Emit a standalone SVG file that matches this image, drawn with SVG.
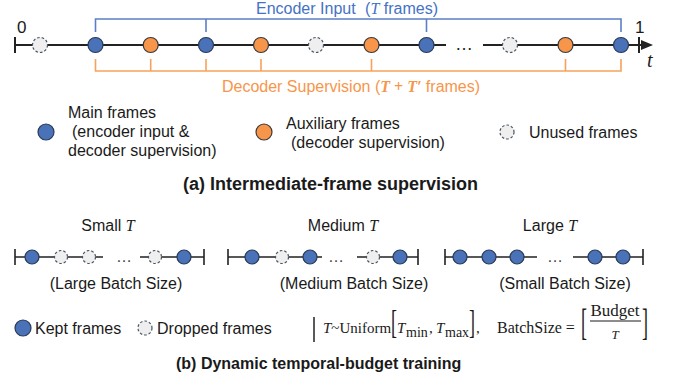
<svg xmlns="http://www.w3.org/2000/svg" width="683" height="383" viewBox="0 0 683 383">
<style>
.blue{fill:#4A72B8;stroke:#2B3A55;stroke-width:1.2}
.orange{fill:#F7964A;stroke:#3A3A3A;stroke-width:1.2}
.unused{fill:#EFEFEF;stroke:#4A5564;stroke-width:1.2;stroke-dasharray:2.6 2}
.axis{stroke:#222;stroke-width:2;fill:none}
.thin{stroke:#222;stroke-width:1.6;fill:none}
.bb{stroke:#5B7FC7;stroke-width:1.6;fill:none}
.ob{stroke:#F7A25A;stroke-width:1.6;fill:none}
.t{font-family:"Liberation Sans",Arial,sans-serif;font-size:16px;fill:#1a1a1a}
.b{font-weight:bold}
.m{font-family:"Liberation Serif","Times New Roman",serif;font-style:italic}
.s{font-family:"Liberation Serif","Times New Roman",serif}
.dots{font-family:"Liberation Sans",Arial,sans-serif;font-size:16px;fill:#444}
</style>
<rect width="683" height="383" fill="#fff"/>

<!-- (a) connectors -->
<g id="connectors-a">
  <path class="axis" d="M15 45H446M483 45H645"/>
  <path class="axis" d="M15 37V53M639 37V53"/>
  <polygon points="641,40 653,45 641,50" fill="#222"/>
  <path class="bb" d="M95.5 32V19H621V32M206 19V32M426.5 19V32"/>
  <path class="ob" d="M95.5 59V71H621V59M150.7 59V71M206 59V71M261 59V71M371.5 59V71M565.5 59V71"/>
</g>
<g id="labels-a">
  <text class="t" x="17" y="33" style="font-size:17px">0</text>
  <text class="t" x="635" y="33" style="font-size:17px">1</text>
  <text class="m" x="647" y="67" style="font-size:20px;fill:#1a1a1a">t</text>
  <text class="t" x="347" y="14" text-anchor="middle" style="fill:#4472C4">Encoder Input <tspan dx="5">(</tspan><tspan class="m">T</tspan> frames)</text>
  <text class="t" x="351" y="92" text-anchor="middle" style="fill:#F7964A">Decoder Supervision (<tspan class="m b">T</tspan><tspan class="s b"> + </tspan><tspan class="m b">T′</tspan> frames)</text>
  <text x="464" y="50" text-anchor="middle" class="t" style="font-size:18px;fill:#222">…</text>
</g>
<g id="frames-a">
  <g id="fa1"><circle class="unused" cx="40" cy="45" r="7.5"/></g>
  <g id="fa2"><circle class="blue" cx="95.5" cy="45" r="7.5"/></g>
  <g id="fa3"><circle class="orange" cx="150.7" cy="45" r="7.5"/></g>
  <g id="fa4"><circle class="blue" cx="206" cy="45" r="7.5"/></g>
  <g id="fa5"><circle class="orange" cx="261" cy="45" r="7.5"/></g>
  <g id="fa6"><circle class="unused" cx="316" cy="45" r="7.5"/></g>
  <g id="fa7"><circle class="orange" cx="371.5" cy="45" r="7.5"/></g>
  <g id="fa8"><circle class="blue" cx="426.5" cy="45" r="7.5"/></g>
  <g id="fa9"><circle class="unused" cx="510" cy="45" r="7.5"/></g>
  <g id="fa10"><circle class="orange" cx="565.5" cy="45" r="7.5"/></g>
  <g id="fa11"><circle class="blue" cx="621" cy="45" r="7.5"/></g>
</g>

<!-- (a) legend -->
<g id="legend-a">
  <g id="leg-main"><circle class="blue" cx="46" cy="132" r="8"/>
    <text class="t" x="68" y="118">Main frames</text>
    <text class="t" x="72" y="137">(encoder input &amp;</text>
    <text class="t" x="68" y="156">decoder supervision)</text></g>
  <g id="leg-aux"><circle class="orange" cx="264" cy="132" r="8"/>
    <text class="t" x="286" y="129">Auxiliary frames</text>
    <text class="t" x="291" y="148">(decoder supervision)</text></g>
  <g id="leg-unused"><circle class="unused" cx="507" cy="132" r="7"/>
    <text class="t" x="529" y="138">Unused frames</text></g>
</g>
<text class="t b" x="183" y="190" style="font-size:18px">(a) Intermediate-frame supervision</text>

<!-- (b) -->
<g id="titles-b">
  <text class="t" x="108" y="231" text-anchor="middle">Small <tspan class="m">T</tspan></text>
  <text class="t" x="343" y="231" text-anchor="middle">Medium <tspan class="m">T</tspan></text>
  <text class="t" x="550" y="231" text-anchor="middle">Large <tspan class="m">T</tspan></text>
  <text class="t" x="116" y="289" text-anchor="middle">(Large Batch Size)</text>
  <text class="t" x="354" y="289" text-anchor="middle">(Medium Batch Size)</text>
  <text class="t" x="565" y="289" text-anchor="middle">(Small Batch Size)</text>
</g>
<g id="connectors-b">
  <path class="thin" d="M15 249V265M204 249V265M15 257H103M140 257H204"/>
  <path class="thin" d="M228 249V265M418 249V265M228 257H322M357 257H418"/>
  <path class="thin" d="M445 249V265M643 249V265M445 257H537M573 257H643"/>
  <text class="dots" x="124" y="262" text-anchor="middle">…</text>
  <text class="dots" x="336" y="262" text-anchor="middle">…</text>
  <text class="dots" x="555" y="262" text-anchor="middle">…</text>
</g>
<g id="frames-small">
  <g id="fs1"><circle class="blue" cx="32" cy="257" r="7"/></g>
  <g id="fs2"><circle class="unused" cx="61" cy="257" r="6.5"/></g>
  <g id="fs3"><circle class="unused" cx="89" cy="257" r="6.5"/></g>
  <g id="fs4"><circle class="unused" cx="155" cy="257" r="6.5"/></g>
  <g id="fs5"><circle class="blue" cx="184" cy="257" r="7"/></g>
</g>
<g id="frames-medium">
  <g id="fm1"><circle class="blue" cx="252" cy="257" r="7"/></g>
  <g id="fm2"><circle class="unused" cx="282" cy="257" r="6.5"/></g>
  <g id="fm3"><circle class="blue" cx="310" cy="257" r="7"/></g>
  <g id="fm4"><circle class="unused" cx="373" cy="257" r="6.5"/></g>
  <g id="fm5"><circle class="blue" cx="400" cy="257" r="7"/></g>
</g>
<g id="frames-large">
  <g id="fl1"><circle class="blue" cx="460" cy="257" r="7"/></g>
  <g id="fl2"><circle class="blue" cx="489" cy="257" r="7"/></g>
  <g id="fl3"><circle class="blue" cx="517" cy="257" r="7"/></g>
  <g id="fl4"><circle class="blue" cx="595" cy="257" r="7"/></g>
  <g id="fl5"><circle class="blue" cx="623" cy="257" r="7"/></g>
</g>

<!-- (b) legend -->
<g id="legend-b">
  <g id="leg-kept"><circle class="blue" cx="23" cy="328" r="8"/>
    <text class="t" x="35" y="334">Kept frames</text></g>
  <g id="leg-dropped"><circle class="unused" cx="145" cy="328" r="7"/>
    <text class="t" x="157" y="334">Dropped frames</text></g>
  <path d="M314 317V342" stroke="#222" stroke-width="1.5"/>
  <g id="formula" font-family="Liberation Serif,Times New Roman,serif" font-size="15" fill="#1a1a1a">
    <text x="323" y="333"><tspan font-style="italic">T</tspan>~Uniform</text>
    <text transform="translate(391,333) scale(1,1.9)" font-size="18">[</text>
    <text x="397" y="333" font-style="italic">T</text>
    <text x="406" y="337" font-size="14">min</text>
    <text x="429" y="333">,</text>
    <text x="436" y="333" font-style="italic">T</text>
    <text x="445" y="337" font-size="14">max</text>
    <text transform="translate(469,333) scale(1,1.9)" font-size="18">]</text>
    <text x="476" y="333">,</text>
    <text x="497" y="333" font-size="16">BatchSize =</text>
    <text transform="translate(581,335) scale(1,2.1)" font-size="18">[</text>
    <text x="615" y="316" text-anchor="middle" font-size="17">Budget</text>
    <path d="M590 321H641" stroke="#1a1a1a" stroke-width="1"/>
    <text x="615" y="339" text-anchor="middle" font-style="italic" font-size="13">T</text>
    <text transform="translate(642,335) scale(1,2.1)" font-size="18">]</text>
  </g>
</g>
<text class="t b" x="176" y="369">(b) Dynamic temporal-budget training</text>
</svg>
